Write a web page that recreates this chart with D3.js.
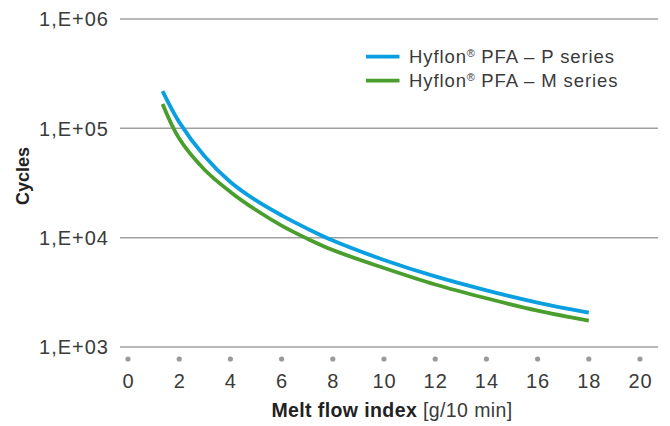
<!DOCTYPE html>
<html><head><meta charset="utf-8">
<script src="https://cdn.jsdelivr.net/npm/d3@7"></script>
<style>body{margin:0;background:#fff}svg{display:block}text{font-family:"Liberation Sans",Arial,sans-serif}</style>
</head><body><svg id="c" width="670" height="426"></svg>
<script>
const mfi = [1.35, 2, 3, 4, 5, 6, 7, 8, 10, 12, 14, 16, 18];
const pSeries = [219000, 114000, 55200, 32300, 21900, 16000, 12100, 9400, 6250, 4420, 3300, 2550, 2060];
const mSeries = [167000, 80600, 41600, 26200, 17900, 12900, 9800, 7700, 5280, 3730, 2790, 2150, 1740];
const xTicks = [0, 2, 4, 6, 8, 10, 12, 14, 16, 18, 20];
const yTicks = [1e3, 1e4, 1e5, 1e6];
const yTickLabels = ["1,E+03", "1,E+04", "1,E+05", "1,E+06"];
const seriesNames = ["Hyflon\u00AE PFA \u2013 P series", "Hyflon\u00AE PFA \u2013 M series"];
const colors = ["#0a9fe0", "#4a9e2e"];

const svg = d3.select("#c");
const x = d3.scaleLinear().domain([0, 20]).range([128, 640]);
const y = d3.scaleLog().domain([1e3, 1e6]).range([347, 19]);

// gridlines
svg.append("g").selectAll("line").data(yTicks).join("line")
  .attr("x1", 120).attr("x2", 658)
  .attr("y1", d => y(d)).attr("y2", d => y(d))
  .attr("stroke", "#a0a0a0").attr("stroke-width", 1.5);

// y labels
svg.append("g").selectAll("text").data(yTicks).join("text")
  .attr("x", 109).attr("y", d => y(d)).attr("dy", "0.36em")
  .attr("text-anchor", "end").attr("font-size", 20).attr("letter-spacing", 1)
  .attr("fill", "#3a3a3a")
  .text((d, i) => yTickLabels[i]);

// x dots and labels
svg.append("g").selectAll("circle").data(xTicks).join("circle")
  .attr("cx", d => x(d)).attr("cy", 359).attr("r", 2.6).attr("fill", "#9a9a9a");
svg.append("g").selectAll("text").data(xTicks).join("text")
  .attr("x", d => x(d) + 0.5).attr("y", 387.5).attr("text-anchor", "middle")
  .attr("font-size", 20).attr("letter-spacing", 1).attr("fill", "#3a3a3a").text(d => d);

// axis titles
const xt = svg.append("text").attr("x", 392).attr("y", 417).attr("text-anchor", "middle")
  .attr("font-size", 19.5).attr("letter-spacing", 0.4).attr("fill", "#222");
xt.append("tspan").attr("font-weight", "bold").text("Melt flow index");
xt.append("tspan").attr("fill", "#3a3a3a").text(" [g/10 min]");
svg.append("text").attr("transform", "translate(29,176) rotate(-90)")
  .attr("text-anchor", "middle").attr("font-size", 18).attr("font-weight", "bold")
  .attr("fill", "#222").text("Cycles");

// curves
const line = d3.line().x(d => x(d[0])).y(d => y(d[1])).curve(d3.curveCatmullRom.alpha(0.5));
[pSeries, mSeries].forEach((s, i) => {
  svg.append("path").datum(mfi.map((m, j) => [m, s[j]]))
    .attr("d", line).attr("fill", "none").attr("stroke", colors[i]).attr("stroke-width", 3.8);
});

// legend
seriesNames.forEach((n, i) => {
  const ly = 56.7 + i * 24;
  svg.append("line").attr("x1", 366).attr("x2", 399.5).attr("y1", ly).attr("y2", ly)
    .attr("stroke", colors[i]).attr("stroke-width", 3.8);
  const t = svg.append("text").attr("x", 409).attr("y", ly + 6.5)
    .attr("font-size", 18.5).attr("letter-spacing", 0.9).attr("fill", "#3a3a3a");
  const parts = n.split("\u00AE");
  t.append("tspan").text(parts[0]);
  t.append("tspan").attr("font-size", 11).attr("dy", -6).attr("letter-spacing", 0.3).text("\u00AE");
  t.append("tspan").attr("dy", 6).text(parts[1]);
});
</script></body></html>
